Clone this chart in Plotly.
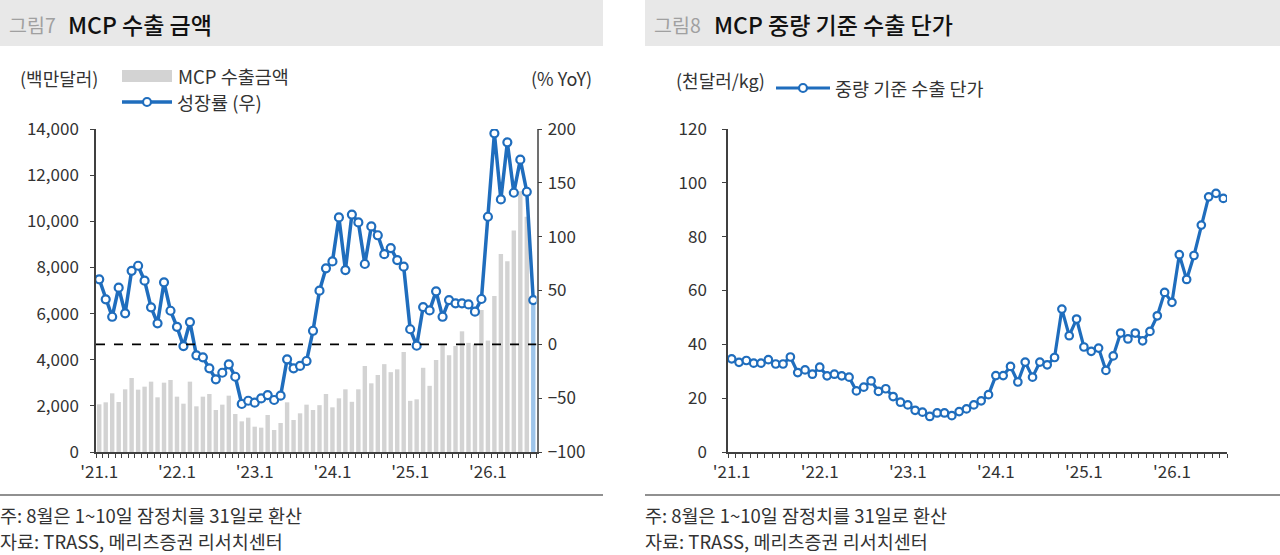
import plotly.graph_objects as go

# months '21.1 ~ '26.8
months = list(range(68))
tick_pos = [0, 12, 24, 36, 48, 60]
tick_text = ["'21.1", "'22.1", "'23.1", "'24.1", "'25.1", "'26.1"]

# MCP 수출금액 (백만달러)
export_amt = [
    2067, 2153, 2543, 2168, 2717, 3208, 2702, 2832, 3049, 2370, 3006, 3121,
    2399, 2095, 3049, 1980, 2399, 2514, 1821, 2052, 2442, 1647, 1329, 1488,
    1098, 1055, 1604, 954, 1257, 2153, 1387, 1676, 2052, 1821, 2030, 2514,
    1936, 2327, 2717, 2175, 2717, 3728, 2977, 3338, 3808, 3460, 3583, 4335,
    2218, 2283, 3650, 2868, 3988, 4682, 4195, 4595, 5231, 4730, 4670, 6160,
    4830, 6758, 8577, 8271, 9603, 11300, 10200, 6480,
]

# 성장률 (% YoY)
growth = [
    60.4, 41.8, 25.6, 52.6, 28.8, 68.3, 73.0, 59.1, 34.4, 19.5, 57.6, 31.2,
    16.3, -1.6, 20.7, -10.2, -12.1, -22.3, -32.5, -26.4, -18.6, -30.1, -55.4, -52.4,
    -54.2, -50.2, -47.1, -51.7, -47.7, -13.9, -22.3, -20.1, -15.5, 12.6, 49.8, 70.6,
    77.0, 117.9, 69.0, 120.5, 113.2, 74.6, 109.5, 101.3, 83.7, 89.4, 78.3, 72.1,
    14.0, -1.3, 34.6, 31.5, 49.2, 25.6, 41.1, 38.1, 38.1, 37.1, 30.3, 42.1,
    118.5, 196.0, 134.6, 187.6, 140.8, 171.5, 141.7, 41.1,
]

# 중량 기준 수출 단가 (천달러/kg)
unit_price = [
    34.6, 33.3, 34.0, 33.0, 33.0, 34.3, 32.7, 32.7, 35.3, 29.5, 30.5, 28.9,
    31.5, 28.3, 28.9, 28.3, 27.8, 22.7, 24.1, 26.4, 22.5, 23.5, 20.6, 18.5,
    17.5, 15.5, 14.8, 13.2, 14.5, 14.5, 13.5, 15.0, 16.0, 17.5, 19.0, 21.3,
    28.4, 28.4, 31.8, 26.0, 33.4, 27.8, 33.4, 32.4, 35.1, 53.1, 43.2, 49.4,
    39.0, 37.4, 38.6, 30.3, 35.7, 44.2, 42.0, 44.2, 41.3, 44.8, 50.6, 59.3,
    55.6, 73.3, 64.1, 73.0, 84.3, 94.8, 96.1, 94.2,
]

W, H = 1280, 555
FONT = "Noto Sans CJK KR"
BLUE = '#1f6dbd'
AXIS = '#404040'
TICK_FONT = {'size': 17, 'color': '#333333'}


def px(x):
    return x / W


def py(y):
    return 1 - y / H


bar_colors = ['#d3d3d3'] * (len(export_amt) - 1) + ['#9fc5ea']

fig = go.Figure()

fig.add_trace(go.Bar(
    x=months, y=export_amt, marker_color=bar_colors, marker_line_width=0,
    xaxis='x', yaxis='y', name='MCP 수출금액',
))
fig.add_trace(go.Scatter(
    x=months, y=growth, mode='lines+markers', xaxis='x', yaxis='y2',
    line={'color': BLUE, 'width': 3.5},
    marker={'size': 8, 'color': 'white', 'line': {'color': BLUE, 'width': 2.2}},
    name='성장률 (우)',
))
fig.add_trace(go.Scatter(
    x=months, y=unit_price, mode='lines+markers', xaxis='x2', yaxis='y3',
    line={'color': BLUE, 'width': 3.2},
    marker={'size': 7.5, 'color': 'white', 'line': {'color': BLUE, 'width': 2.2}},
    name='중량 기준 수출 단가',
))

xaxis_common = {
    'range': [-0.5, 67.5],
    'tickvals': tick_pos,
    'ticktext': tick_text,
    'ticks': 'outside',
    'ticklen': 4,
    'tickcolor': 'rgba(0,0,0,0)',
    'showline': True,
    'linecolor': AXIS,
    'linewidth': 1.5,
    'showgrid': False,
    'zeroline': False,
    'automargin': False,
    'tickfont': TICK_FONT,
    'minor': {'ticks': 'outside', 'ticklen': 4, 'tick0': -0.5, 'dtick': 1,
              'tickcolor': AXIS, 'tickwidth': 1, 'showgrid': False},
}
yaxis_common = {
    'ticks': 'outside',
    'ticklen': 4,
    'tickcolor': AXIS,
    'showline': True,
    'linecolor': AXIS,
    'linewidth': 1.5,
    'showgrid': False,
    'zeroline': False,
    'automargin': False,
    'tickfont': TICK_FONT,
}

y_dom = [py(452), py(129)]

fig.update_layout(
    width=W, height=H,
    autosize=False,
    margin={'l': 0, 'r': 0, 't': 0, 'b': 0, 'pad': 0, 'autoexpand': False},
    paper_bgcolor='white',
    plot_bgcolor='white',
    font={'family': FONT, 'color': '#333333'},
    showlegend=False,
    bargap=0.32,
    xaxis={**xaxis_common, 'domain': [px(96), px(536.5)], 'anchor': 'y'},
    yaxis={**yaxis_common, 'domain': y_dom, 'range': [0, 14000], 'dtick': 2000,
           'tickformat': ',', 'anchor': 'x', 'ticklabelstandoff': 8},
    yaxis2={**yaxis_common, 'overlaying': 'y', 'side': 'right', 'range': [-100, 200],
            'dtick': 50, 'anchor': 'x', 'linecolor': '#707070', 'ticklabelstandoff': 2},
    xaxis2={**xaxis_common, 'domain': [px(728), px(1227)], 'anchor': 'y3'},
    yaxis3={**yaxis_common, 'domain': y_dom, 'range': [0, 120], 'dtick': 20,
            'anchor': 'x2', 'ticklabelstandoff': 12},
)

shapes = [
    # header bands
    dict(type='rect', xref='paper', yref='paper', x0=px(0), x1=px(603), y0=py(46), y1=py(0),
         fillcolor='#e8e8e8', line_width=0, layer='below'),
    dict(type='rect', xref='paper', yref='paper', x0=px(645), x1=px(1280), y0=py(46), y1=py(0),
         fillcolor='#e8e8e8', line_width=0, layer='below'),
    # bottom separators
    dict(type='line', xref='paper', yref='paper', x0=px(0), x1=px(603), y0=py(495), y1=py(495),
         line={'color': '#222222', 'width': 1.2}),
    dict(type='line', xref='paper', yref='paper', x0=px(645), x1=px(1280), y0=py(495), y1=py(495),
         line={'color': '#222222', 'width': 1.2}),
    # zero line on growth axis
    dict(type='line', xref='x', yref='y2', x0=-0.5, x1=67.5, y0=0, y1=0,
         line={'color': 'black', 'width': 1.6, 'dash': 'dash'}, layer='above'),
    # legend swatches
    dict(type='rect', xref='paper', yref='paper', x0=px(122), x1=px(172), y0=py(82), y1=py(70),
         fillcolor='#d3d3d3', line_width=0),
    dict(type='line', xref='paper', yref='paper', x0=px(122), x1=px(172), y0=py(102), y1=py(102),
         line={'color': BLUE, 'width': 3.5}),
    dict(type='circle', xref='paper', yref='paper', x0=px(143), x1=px(151), y0=py(106), y1=py(98),
         fillcolor='white', line={'color': BLUE, 'width': 2.2}),
    dict(type='line', xref='paper', yref='paper', x0=px(776), x1=px(830), y0=py(88), y1=py(88),
         line={'color': BLUE, 'width': 3.2}),
    dict(type='circle', xref='paper', yref='paper', x0=px(799), x1=px(807), y0=py(92), y1=py(84),
         fillcolor='white', line={'color': BLUE, 'width': 2.2}),
]
fig.update_layout(shapes=shapes)


def note(x, y, text, size=18, color='#333333', xanchor='left', weight='normal'):
    fig.add_annotation(xref='paper', yref='paper', x=px(x), y=py(y), text=text,
                       showarrow=False, xanchor=xanchor, yanchor='middle',
                       font={'family': FONT, 'size': size, 'color': color, 'weight': weight})


# titles
note(7, 24, '그림7', size=19.5, color='#a0a0a0')
note(66, 24, 'MCP 수출 금액', size=23, color='#111111', weight=500)
note(652, 24, '그림8', size=19.5, color='#a0a0a0')
note(712, 24, 'MCP 중량 기준 수출 단가', size=23, color='#111111', weight=500)

# units and legends
note(18, 78, '(백만달러)')
note(594, 78, '(% YoY)', xanchor='right')
note(176, 76, 'MCP 수출금액', size=18.5)
note(175, 102, '성장률 (우)', size=18.5)
note(674, 80, '(천달러/kg)')
note(833, 88, '중량 기준 수출 단가', size=18.5)

# footnotes
note(-2, 515, '주: 8월은 1~10일 잠정치를 31일로 환산', size=18.5)
note(-2, 541, '자료: TRASS, 메리츠증권 리서치센터', size=18.5)
note(643, 515, '주: 8월은 1~10일 잠정치를 31일로 환산', size=18.5)
note(643, 541, '자료: TRASS, 메리츠증권 리서치센터', size=18.5)

fig.write_html("out.html", config={'displayModeBar': False},
               post_script="document.body.style.margin='0px';")
